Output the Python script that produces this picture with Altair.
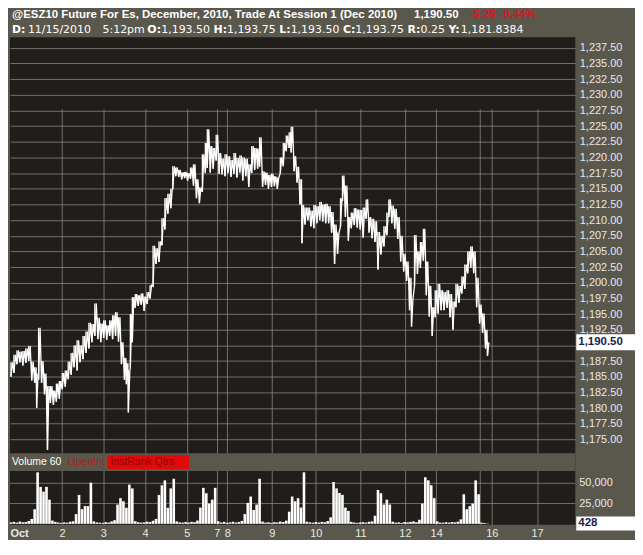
import altair as alt
import pandas as pd

# ---------------- data ----------------
# session-time position of each price bucket (chart time units)
price_t = [5, 8, 11, 14, 17, 20, 23, 26, 29, 31,
           33, 36, 39, 42, 45, 48, 51, 54, 57, 60,
           63, 66, 69, 72, 75, 78, 81, 84, 87, 90,
           93, 96, 99, 102, 105, 108, 111, 114, 117, 120,
           122, 124, 126, 128, 131, 134, 137, 140, 143, 146,
           149, 152, 155, 158, 161, 164, 167, 169, 172, 175,
           178, 181, 184, 187, 190, 193, 196, 199, 202, 204,
           207, 210, 213, 216, 219, 222, 225, 228, 231, 234,
           237, 240, 243, 246, 249, 252, 255, 257, 260, 263,
           266, 269, 272, 275, 278, 281, 284, 287, 289, 292,
           295, 298, 300, 303, 306, 309, 312, 315, 318, 321,
           324, 327, 330, 333, 336, 339, 341, 344, 347, 350,
           353, 356, 359, 362, 365, 368, 371, 374, 377, 380,
           383, 386, 388, 391, 394, 397, 400, 403, 406, 409,
           411, 414, 417, 420, 423, 426, 429, 432, 435, 438,
           441, 444, 447, 450, 453, 456, 459, 462, 465, 468,
           471, 474, 477, 480, 483, 486, 488]
price_lo = [1185.0, 1185.6, 1187.0, 1187.3, 1186.8, 1187.2, 1187.5, 1184.4, 1184.0, 1180.0,
            1184.5, 1184.0, 1182.2, 1173.3, 1180.8, 1180.5, 1181.0, 1181.5, 1183.0, 1183.4,
            1184.6, 1185.3, 1186.5, 1186.0, 1187.3, 1187.8, 1188.8, 1189.5, 1190.5, 1191.5,
            1191.0, 1190.5, 1191.2, 1190.9, 1191.5, 1191.0, 1191.5, 1190.6, 1187.0, 1184.5,
            1183.8, 1179.3, 1186.5, 1190.5, 1196.0, 1196.3, 1196.5, 1195.5, 1196.6, 1197.5,
            1199.4, 1203.0, 1203.3, 1206.0, 1208.5, 1211.0, 1211.9, 1215.0, 1217.0, 1216.9,
            1216.5, 1216.7, 1216.3, 1216.6, 1215.5, 1213.5, 1212.7, 1214.5, 1217.5, 1218.3,
            1217.6, 1218.2, 1219.5, 1217.4, 1217.3, 1217.0, 1217.5, 1216.9, 1217.4, 1216.8,
            1217.6, 1216.3, 1217.0, 1215.3, 1217.5, 1218.0, 1218.2, 1218.5, 1215.3, 1215.6,
            1215.0, 1215.3, 1215.4, 1215.0, 1217.5, 1218.6, 1221.0, 1221.5, 1220.8, 1217.8,
            1216.0, 1212.5, 1206.3, 1209.3, 1210.0, 1209.0, 1208.7, 1209.5, 1210.0, 1209.8,
            1209.5, 1209.5, 1208.0, 1203.0, 1204.6, 1209.0, 1213.0, 1210.5, 1206.7, 1208.7,
            1209.2, 1208.8, 1208.5, 1207.2, 1210.2, 1208.0, 1207.1, 1206.5, 1202.1, 1204.5,
            1205.8, 1207.6, 1210.5, 1209.5, 1208.6, 1207.0, 1203.4, 1201.8, 1200.3, 1195.6,
            1193.0, 1199.5, 1201.4, 1202.4, 1203.5, 1198.0, 1194.6, 1191.5, 1194.5, 1195.1,
            1195.6, 1195.6, 1196.0, 1194.5, 1192.5, 1196.1, 1196.8, 1198.3, 1199.0, 1201.5,
            1202.4, 1201.5, 1196.1, 1193.5, 1192.0, 1189.5, 1188.3]
price_hi = [1187.3, 1188.5, 1189.2, 1189.0, 1189.1, 1189.5, 1189.9, 1187.4, 1186.5, 1185.5,
            1192.8, 1187.5, 1185.5, 1183.5, 1183.5, 1182.8, 1183.9, 1184.3, 1185.6, 1186.0,
            1187.4, 1188.8, 1190.0, 1190.8, 1190.0, 1191.5, 1192.2, 1193.6, 1193.4, 1196.7,
            1194.4, 1193.5, 1194.0, 1193.2, 1194.0, 1194.8, 1195.3, 1194.5, 1190.5, 1188.0,
            1187.2, 1186.0, 1195.0, 1197.7, 1198.2, 1198.0, 1198.3, 1197.8, 1198.5, 1199.6,
            1205.9, 1205.5, 1206.6, 1210.3, 1213.5, 1214.2, 1215.0, 1218.6, 1218.4, 1218.0,
            1217.6, 1217.7, 1217.5, 1218.4, 1218.9, 1216.5, 1215.2, 1220.5, 1222.3, 1224.5,
            1221.8, 1221.5, 1223.6, 1220.7, 1219.8, 1220.5, 1220.2, 1219.6, 1220.7, 1219.9,
            1220.3, 1220.0, 1219.8, 1218.9, 1221.8, 1221.5, 1221.4, 1223.2, 1217.8, 1217.6,
            1217.2, 1217.4, 1217.0, 1216.8, 1220.0, 1222.3, 1223.5, 1224.0, 1224.9, 1220.2,
            1218.5, 1216.5, 1212.4, 1212.0, 1212.0, 1211.5, 1212.4, 1212.2, 1212.9, 1212.5,
            1212.6, 1212.2, 1211.3, 1209.3, 1208.0, 1213.5, 1217.1, 1215.5, 1210.5, 1211.2,
            1211.9, 1211.7, 1211.6, 1212.0, 1213.3, 1210.5, 1210.2, 1209.8, 1208.1, 1207.5,
            1209.0, 1211.2, 1213.3, 1212.3, 1211.8, 1210.5, 1207.5, 1204.6, 1203.4, 1200.8,
            1197.5, 1207.6, 1205.0, 1206.5, 1208.6, 1203.4, 1199.5, 1196.1, 1198.8, 1199.8,
            1198.8, 1198.5, 1198.8, 1198.2, 1197.0, 1199.8, 1199.5, 1201.0, 1202.9, 1205.0,
            1205.8, 1205.0, 1200.8, 1196.5, 1195.1, 1192.5, 1190.5]

# hourly volume, thousands of contracts (one bar every 3 time units from 5)
vol_k = [1.8, 2.4, 1.5, 2.8, 1.9, 2.2, 3.5, 6.0, 18.0, 63.5,
         45.6, 39.7, 45.6, 29.8, 4.0, 2.5, 1.6, 1.2, 1.8, 1.4,
         2.6, 3.2, 12.0, 35.7, 18.0, 22.0, 21.8, 50.8, 3.0, 1.8,
         1.4, 1.2, 2.0, 1.6, 3.0, 4.5, 23.8, 31.7, 27.8, 19.8,
         48.4, 43.7, 3.2, 2.0, 1.5, 1.8, 2.6, 2.2, 3.8, 6.0,
         35.7, 47.6, 53.6, 19.8, 43.7, 55.6, 3.0, 1.8, 1.5, 2.2,
         1.6, 2.4, 2.0, 4.0, 20.0, 44.4, 37.7, 25.0, 29.8, 44.4,
         3.2, 1.6, 2.4, 1.4, 1.8, 2.6, 1.6, 2.2, 3.6, 12.0,
         25.8, 33.7, 17.0, 23.8, 55.6, 2.8, 1.5, 1.9, 1.2, 2.0,
         1.7, 2.8, 2.2, 4.0, 15.0, 33.7, 27.8, 31.7, 20.0, 63.5,
         2.6, 1.8, 1.4, 2.2, 1.6, 2.4, 2.0, 3.4, 8.0, 51.6,
         43.7, 38.0, 35.7, 20.0, 15.9, 2.4, 1.6, 1.2, 1.8, 2.0,
         1.5, 2.6, 3.0, 10.0, 41.7, 37.7, 23.8, 29.8, 23.8, 2.6,
         1.5, 1.8, 1.2, 2.2, 1.8, 2.4, 3.0, 2.0, 5.0, 25.0,
         57.5, 53.6, 47.6, 31.7, 3.0, 1.6, 1.4, 2.0, 1.5, 2.2,
         1.8, 2.6, 5.5, 36.5, 18.0, 21.8, 25.0, 53.6, 36.5, 1.5,
         1.0, 0.428]

day_ticks = [4, 56.7, 98.7, 141, 183.3, 213.7, 224.3, 269.3, 314, 359.3,
             404.3, 436, 480, 492.3, 538.3]
day_labels = ["Oct", "2", "3", "4", "5", "7", "8", "9", "10", "11",
              "12", "14", "", "16", "17"]
price_ticks = [1175.0, 1177.5, 1180.0, 1182.5, 1185.0, 1187.5, 1190.0, 1192.5,
               1195.0, 1197.5, 1200.0, 1202.5, 1205.0, 1207.5, 1210.0, 1212.5,
               1215.0, 1217.5, 1220.0, 1222.5, 1225.0, 1227.5, 1230.0, 1232.5,
               1235.0, 1237.5]
vol_ticks = [25000, 50000]
last_price = 1190.50
last_volume = 428

title_main = "@ESZ10 Future For Es, December, 2010, Trade At Session 1 (Dec 2010)"
title_last = "1,190.50"
title_chg = "-5.25"
title_pct = "-0.44%"
line2 = [("D:", 6, True), ("11/15/2010", 22, False), ("5:12pm", 97, False),
         ("O:", 142, True), ("1,193.50", 156, False),
         ("H:", 208.5, True), ("1,193.75", 222, False),
         ("L:", 274.5, True), ("1,193.50", 286, False),
         ("C:", 338.5, True), ("1,193.75", 351, False),
         ("R:", 403.5, True), ("0.25", 416.5, False),
         ("Y:", 444.5, True), ("1,181.8384", 457, False)]

# ---------------- styling ----------------
BG = "#5a574d"
PANEL = "#201d1a"
GRID = "#8a877f"
TXT = "#e8e8e8"
RED = "#e3101c"
FONT = "Liberation Sans"
FONT2 = "DejaVu Sans"

W = 568
PRICE_H = 418
VOL_TOP = 436
H = 490

xs = alt.Scale(domain=[4, 577], nice=False, zero=False)
ps = alt.Scale(domain=[1172.8, 1239.2], range=[PRICE_H, 0], nice=False, zero=False)
vs = alt.Scale(domain=[-1200, 65100], range=[H, VOL_TOP], nice=False, zero=False)

ticks_js = "[" + ",".join(str(v) for v in day_ticks) + "]"
labels_js = "[" + ",".join("'%s'" % s for s in day_labels) + "]"
xaxis = alt.Axis(
    values=day_ticks,
    labelExpr=f"{labels_js}[indexof({ticks_js}, datum.value)]",
    grid=True, gridColor=GRID, gridWidth=1,
    gridOpacity={"expr": "datum.value < 10 ? 0 : 0.8"},
    ticks=False, domain=False, labelColor=TXT, labelFont=FONT, labelFontSize=11,
    labelPadding=3, labelOverlap=False, labelFlush=False,
    labelAlign={"expr": "datum.value < 10 ? 'left' : 'center'"},
    labelFontWeight={"expr": "datum.value < 10 ? 'bold' : 'normal'"},
    title=None,
)
yaxis = alt.Axis(
    orient="right", values=price_ticks,
    labelExpr=f"datum.value == {last_price - 0.5} ? '' : format(datum.value, ',.2f')",
    grid=True, gridColor=GRID,
    gridOpacity=0.8, gridWidth=1, ticks=False, domain=False, labelColor=TXT,
    labelFont=FONT, labelFontSize=11, labelPadding=4, labelOverlap=False, title=None,
)

price_df = pd.DataFrame({"t": price_t, "lo": price_lo, "hi": price_hi})
# trace each bucket low -> high so the line scribbles like a tick chart
saw_rows = []
for t, lo, hi in zip(price_t, price_lo, price_hi):
    saw_rows.append({"t": t, "p": lo, "seq": len(saw_rows)})
    saw_rows.append({"t": t + 1.5, "p": hi, "seq": len(saw_rows)})
saw_df = pd.DataFrame(saw_rows)
vol_df = pd.DataFrame({"t": list(range(5, 5 + 3 * len(vol_k), 3)),
                       "v": [v * 1000 for v in vol_k]})
vg_df = pd.DataFrame({"v": vol_ticks})
one = pd.DataFrame({"a": [0]})

half_p = 8 / (PRICE_H / (1239.2 - 1172.8))
half_v = 7 / ((H - VOL_TOP) / (65100 + 1200))
pb_df = pd.DataFrame({"p": [last_price], "b0": [last_price - half_p], "b1": [last_price + half_p]})
vb_df = pd.DataFrame({"v": [last_volume], "b0": [last_volume - half_v], "b1": [last_volume + half_v]})

X = alt.X("t:Q", scale=xs, axis=xaxis)

layers = []
# gap between the two panels hides the vertical grid
layers.append(alt.Chart(one).mark_rect(color=BG).encode(
    x=alt.value(0), x2=alt.value(W), y=alt.value(PRICE_H), y2=alt.value(VOL_TOP)))
# price trace
layers.append(alt.Chart(price_df).mark_rule(color="white", strokeWidth=1.3).encode(
    x=X, y=alt.Y("lo:Q", scale=ps, axis=yaxis), y2="hi:Q"))
layers.append(alt.Chart(saw_df).mark_line(color="white", strokeWidth=1.3).encode(
    x=X, y=alt.Y("p:Q", scale=ps, axis=None), order="seq:Q"))
# volume
layers.append(alt.Chart(vg_df).mark_rule(color=GRID, opacity=0.8).encode(
    x=alt.value(0), x2=alt.value(W), y=alt.Y("v:Q", scale=vs, axis=None)))
layers.append(alt.Chart(vol_df).mark_rule(color="white", strokeWidth=2.6).encode(
    x=X, y=alt.Y("v:Q", scale=vs, axis=None), y2=alt.datum(0)))
layers.append(alt.Chart(vg_df).mark_text(align="left", baseline="middle", color=TXT,
                                         font=FONT, fontSize=11).encode(
    x=alt.value(W + 4), y=alt.Y("v:Q", scale=vs, axis=None), text=alt.Text("v:Q", format=",")))
# last price / last volume boxes
layers.append(alt.Chart(pb_df).mark_rect(color="white").encode(
    x=alt.value(W + 1), x2=alt.value(W + 60), y=alt.Y("b0:Q", scale=ps, axis=None), y2="b1:Q"))
layers.append(alt.Chart(pb_df).mark_text(align="left", baseline="middle", color="#1c2050",
                                         font=FONT, fontSize=11.5, fontWeight="bold").encode(
    x=alt.value(W + 3), y=alt.Y("p:Q", scale=ps, axis=None), text=alt.Text("p:Q", format=",.2f")))
layers.append(alt.Chart(vb_df).mark_rect(color="white").encode(
    x=alt.value(W + 1), x2=alt.value(W + 60), y=alt.Y("b0:Q", scale=vs, axis=None), y2="b1:Q"))
layers.append(alt.Chart(vb_df).mark_text(align="left", baseline="middle", color="#1c2050",
                                         font=FONT, fontSize=11.5, fontWeight="bold").encode(
    x=alt.value(W + 3), y=alt.Y("v:Q", scale=vs, axis=None), text=alt.Text("v:Q", format=",")))


def label(text, x, y, color, bold=False, size=11, font=FONT):
    return alt.Chart(one).mark_text(align="left", baseline="middle", color=color,
                                    font=font, fontSize=size,
                                    fontWeight="bold" if bold else "normal").encode(
        x=alt.value(x), y=alt.value(y), text=alt.value(text))


# header
layers.append(label(title_main, 2, -22, "#ffffff", True, 11.5))
layers.append(label(title_last, 406, -22, "#ffffff", True, 11.5))
layers.append(label(title_chg, 462, -22, RED, True, 11.5))
layers.append(label(title_pct, 492, -22, RED, True, 11.5))
for txt, rx, b in line2:
    layers.append(label(txt, rx - 4, -7, "#ffffff", b, 11, FONT2))

# volume panel caption row
layers.append(label("Volume 60", 2, 427, "#ffffff", False, 10.5))
layers.append(label("OpenInt", 58, 427, "#c4161c", False, 10.5))
layers.append(alt.Chart(one).mark_rect(color="#e00a0a").encode(
    x=alt.value(98), x2=alt.value(180), y=alt.value(420), y2=alt.value(434)))
layers.append(label("InstRank Qtrs", 101, 427, "#8a0808", False, 10.5))

chart = alt.layer(*layers).resolve_scale(y="independent").properties(
    width=W, height=H, background=BG, padding=0
).configure_view(fill=PANEL, strokeWidth=0)

chart.save("out.html", embed_options={"renderer": "svg", "actions": False})
